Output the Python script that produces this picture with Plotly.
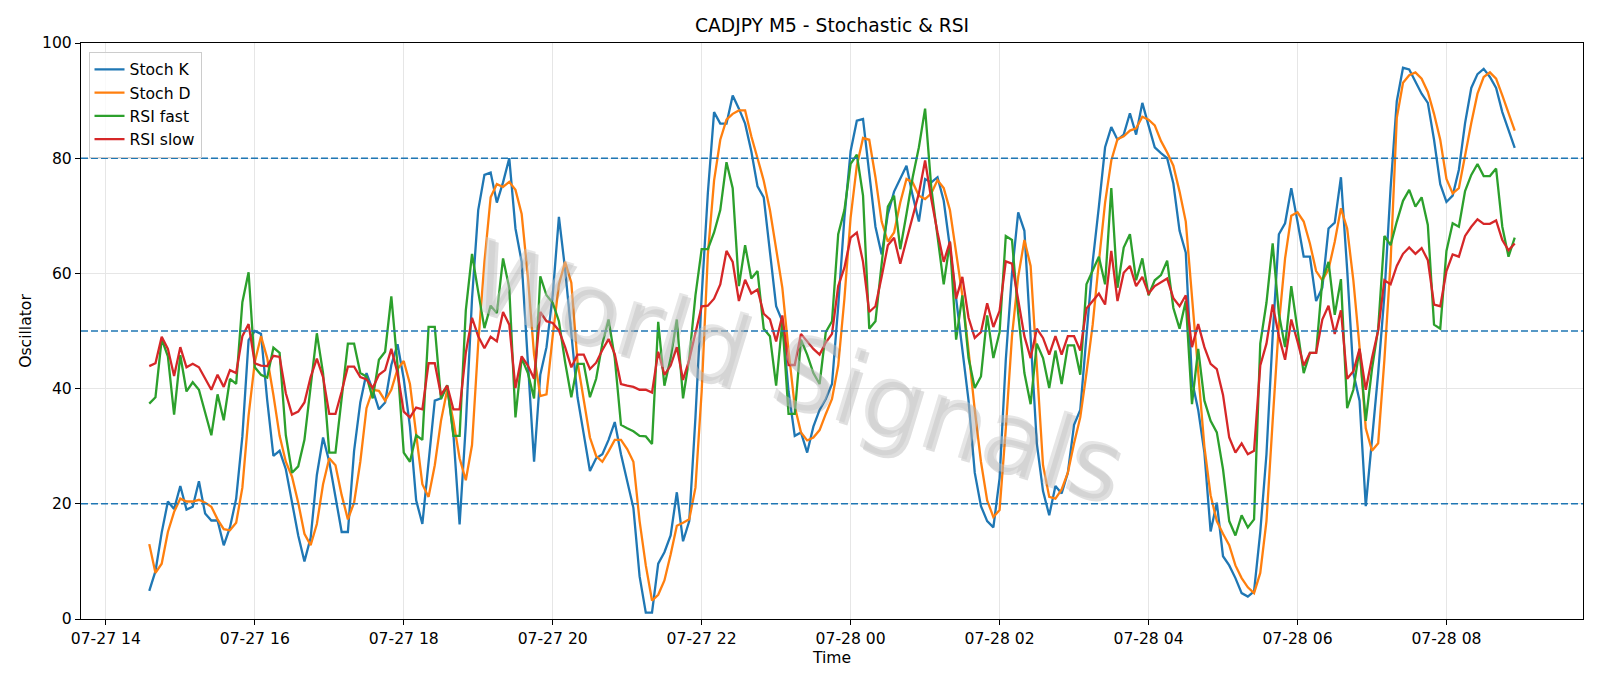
import pandas as pd
import plotly.graph_objects as go

start_time = "2025-07-27 14:35"

stoch_k = [
    4.9, 8.3, 15, 20.4, 19.1, 23.1, 19, 19.5, 23.9, 18.3,
    17.1, 17.1, 12.8, 15.9, 20.9, 31.7, 48.4, 50, 49.5, 38,
    28.3, 29.2, 26, 20.2, 14.5, 10, 14.1, 25, 31.5, 27.3,
    20.9, 15.1, 15.1, 29.2, 37.6, 42.7, 39.8, 36.4, 37.6, 44.1,
    47.7, 41.7, 33.4, 20.6, 16.5, 27.3, 37.9, 38.3, 40.5, 32.1,
    16.4, 33.7, 55.6, 71, 77.1, 77.5, 72.3, 75.8, 80, 67.8,
    62, 44.6, 27.3, 42.4, 47.2, 56.2, 69.8, 60.7, 49.1, 38.5,
    32.1, 25.7, 27.9, 28.6, 31.1, 34.2, 28.6, 24.1, 19.3, 7.4,
    1.1, 1.1, 9.6, 11.6, 14.5, 22, 13.5, 17, 35, 56,
    74, 88, 86, 86, 90.9, 88.6, 86, 81.2, 75.1, 73.2,
    63.9, 54.3, 51.7, 39.5, 31.8, 32.4, 28.9, 33.4, 36.3, 38.2,
    40.8, 54.3, 69.7, 81.2, 86.5, 86.8, 77.4, 68.1, 63.3, 70.3,
    74.2, 76.4, 78.7, 73.5, 69, 76.4, 75.8, 76.7, 72.6, 64.5,
    55.6, 46.6, 37.9, 25.4, 19.6, 17, 15.9, 24.4, 45, 60,
    70.6, 67.4, 49.1, 30.5, 22.2, 18, 23.1, 21.8, 25.4, 33.7,
    36.3, 49.1, 62, 71.6, 81.9, 85.4, 83.2, 84.1, 87.8, 84.1,
    89.6, 85.7, 81.9, 80.9, 80, 75.6, 67.4, 63.6, 41.4, 36.3,
    28.9, 15.2, 20.2, 10.9, 9.3, 7.1, 4.5, 3.9, 4.8, 15.1,
    28.6, 49.1, 66.8, 68.7, 74.8, 69, 62.9, 62.9, 55.2, 57.5,
    67.8, 68.8, 76.7, 60.7, 42.7, 37.9, 19.6, 31.1, 42.7, 56.2,
    74.8, 89.9, 95.7, 95.4, 93.4, 91.2, 89.6, 83.2, 75.5, 72.4,
    73.5, 78, 86.1, 92.2, 94.6, 95.5, 94.1, 92.2, 88, 84.8,
    81.8,
]

stoch_d = [
    13, 8, 9.6, 15.1, 18.6, 20.9, 20.4, 20.4, 20.7, 20.2,
    19.5, 17.3, 15.6, 15.4, 16.7, 22.8, 35.3, 44.6, 49.1, 45.3,
    38.9, 31.8, 27.3, 24.7, 20.2, 14.8, 12.8, 16.5, 23.4, 27.9,
    26.7, 21.5, 17.3, 20.2, 27.3, 36.6, 39.8, 39.6, 37.9, 39.8,
    43.4, 44.8, 40.8, 31.8, 23.4, 21.2, 26.7, 34.4, 39.8, 34.4,
    27.9, 24.1, 30.2, 47.8, 62, 73.2, 75.5, 75, 75.9, 74.5,
    70.3, 59.4, 45.9, 38.7, 39, 49.1, 58.1, 62, 58.4, 44.6,
    38.2, 31.5, 28.3, 27.3, 29.1, 31.1, 31.1, 29.5, 27.3, 17,
    9.3, 3.2, 4.2, 6.7, 11.2, 16.2, 16.7, 17.3, 22.8, 39.5,
    63.3, 76.1, 83.2, 86.7, 87.7, 88.3, 88.3, 83.8, 80, 76.1,
    71, 64.5, 57.5, 46.6, 36.9, 32.4, 31, 31.5, 32.8, 35.6,
    38.2, 44, 55.6, 69.7, 78.7, 83.5, 83.2, 76.7, 69, 65.5,
    67.1, 72.3, 76.4, 75.8, 73.5, 72.9, 73.9, 76.2, 74.8, 71,
    63.9, 56.2, 46.6, 36.3, 27.3, 20.6, 17.7, 18.9, 33, 49.1,
    59.4, 65.8, 61.3, 44.6, 26.7, 21.2, 20.9, 22.5, 25.4, 30.5,
    35, 42.7, 51.1, 62, 72.3, 79.6, 83.3, 83.8, 84.8, 85.2,
    87.2, 86.7, 85.7, 83, 81, 78.7, 74.2, 69, 55.6, 42.7,
    29.9, 21.5, 17, 14.8, 12.8, 9.3, 7.1, 5.5, 4.5, 8,
    17, 34.4, 51.1, 62.6, 70, 70.6, 69, 65.2, 60.4, 58.8,
    60.7, 65.5, 71.3, 67.8, 58.8, 47.2, 33.1, 29.2, 30.5, 45,
    62, 87, 93.1, 94.4, 94.9, 93.8, 91.5, 87.7, 83.2, 76.4,
    73.9, 74.8, 80.6, 86.1, 91.2, 94.1, 94.9, 93.8, 90.9, 87.7,
    84.8,
]

rsi_fast = [
    37.4, 38.5, 48.6, 45.6, 35.5, 45.8, 39.5, 41.1, 39.8, 36,
    31.9, 39, 34.5, 41.7, 40.8, 55, 60.2, 43.7, 42.4, 41.9,
    47.1, 46.2, 31.9, 25.4, 26.5, 31.1, 40.8, 49.6, 42.7, 28.9,
    28.9, 38.3, 47.8, 47.8, 42.7, 42.1, 38.3, 45, 46.4, 56,
    44, 28.9, 27.3, 31.9, 31.1, 50.7, 50.7, 38.2, 40.6, 31.8,
    31.8, 53.6, 63.4, 56.8, 50.5, 54.4, 53.1, 62.6, 57.5, 35,
    45.3, 42.7, 38.3, 59.5, 56.2, 54.9, 51.7, 44.6, 38.5, 44.3,
    44.3, 38.5, 41.7, 47.8, 52, 45.3, 33.7, 33.1, 32.6, 31.8,
    31.7, 30.4, 51.6, 40.5, 45.3, 52, 38.3, 45.3, 56.2, 64.2,
    64.2, 67.1, 71, 79.3, 74.8, 57.8, 64.9, 59.1, 60.4, 50.4,
    49.1, 40.5, 51.7, 35.6, 35.6, 48.5, 45.9, 42.7, 40.8, 49.8,
    51.7, 66.8, 71, 79, 80.6, 73.5, 50.4, 51.7, 62, 71.6,
    73.5, 64.2, 70.3, 76.7, 81.9, 88.6, 74.8, 66.5, 58.1, 65.5,
    48.5, 56.2, 45.3, 40.1, 42.1, 52.7, 45.3, 49.8, 66.5, 65.8,
    53, 42.7, 37.3, 47.8, 45.3, 40.1, 46.6, 40.8, 47.5, 47.5,
    42.4, 58.1, 60.4, 62.9, 58.1, 74.8, 57.5, 64.5, 66.8, 58.8,
    62.6, 56.2, 58.8, 59.7, 62.2, 54, 50.4, 55.2, 37.3, 46.9,
    37.9, 34.4, 32.4, 26, 17, 14.5, 18, 15.9, 17.3, 47.8,
    54.9, 65.2, 53, 47.2, 57.8, 50.4, 42.7, 46.2, 46.2, 58.8,
    62, 52.8, 59, 36.6, 39.8, 46.9, 34.4, 43.4, 50.4, 66.5,
    64.9, 69, 72.6, 74.5, 71.6, 73.2, 68.4, 51.1, 50.4, 63.9,
    68.7, 68.1, 74.3, 77.1, 79, 76.9, 76.9, 78.2, 68.1, 62.9,
    66.2,
]

rsi_slow = [
    43.9, 44.4, 49, 46.9, 42.2, 47.2, 43.7, 44.3, 43.7, 41.7,
    39.8, 42.4, 40.3, 43.2, 42.7, 49.1, 51.2, 44.4, 44, 43.9,
    45.7, 45.5, 39.2, 35.5, 36, 37.6, 42, 45.2, 42, 35.6,
    35.6, 39.5, 43.8, 43.8, 42, 41.6, 40.1, 42.4, 43.2, 46.9,
    42.7, 36, 35, 36.7, 36.4, 44.4, 44.4, 38.9, 40.5, 36.4,
    36.4, 46.2, 52.3, 49.1, 47, 49, 48.2, 53.3, 51.1, 40.1,
    45.6, 44, 41.7, 53.3, 51.7, 51.4, 50.1, 47.2, 43.7, 45.9,
    45.9, 43.4, 44.5, 46.7, 48.6, 46, 40.8, 40.5, 40.3, 39.8,
    39.8, 39.3, 46.4, 42.4, 44, 47.2, 41.5, 45, 49.8, 54.3,
    54.4, 55.6, 58.1, 63.9, 62, 55.2, 58.9, 56.5, 57.2, 53,
    52, 48.2, 52.7, 44.1, 44.1, 49.5, 48.2, 46.9, 45.9, 48,
    49.5, 57.8, 61, 66.2, 67.1, 62, 53.3, 54.3, 59.4, 64.9,
    66.2, 61.7, 65.8, 69.7, 73.9, 79.6, 72.9, 67.1, 62, 65.5,
    55.6, 59.4, 52.3, 48.8, 49.8, 54.8, 50.7, 53.5, 62.1, 61.7,
    55.6, 49.1, 45.3, 50.4, 48.8, 45.9, 49.1, 45.9, 49.1, 49.1,
    46.6, 53.9, 55.2, 56.5, 54.6, 63.9, 55.2, 60.1, 61.3, 57.8,
    59.4, 56.5, 57.8, 58.4, 59.1, 55.7, 54.3, 56.2, 47.2, 51.2,
    47.2, 44.3, 43.4, 38.9, 31.5, 28.9, 30.5, 28.6, 29.2, 44,
    47.8, 54.6, 49.1, 45, 52, 48.2, 44, 46.2, 46.2, 52,
    54.4, 49.5, 53.6, 41.7, 43, 46.9, 39.8, 45.3, 50.1, 58.8,
    58.1, 61.3, 63.4, 64.5, 63.4, 64.4, 62.3, 54.6, 54.3, 60.4,
    63.3, 62.9, 66.5, 68.1, 69.4, 68.6, 68.6, 69.2, 65.8, 64,
    65.2,
]

levels = [80, 50, 20]
tick_times = pd.date_range("2025-07-27 14:00", "2025-07-28 08:00", freq="2h")
tick_labels = [t.strftime("%m-%d %H") for t in tick_times]

times = pd.date_range(start_time, periods=len(stoch_k), freq="5min")
span = times[-1] - times[0]
x_range = [times[0] - span * 0.05, times[-1] + span * 0.05]

FONT = "DejaVu Sans"
series = [
    ("Stoch K", stoch_k, "#1f77b4"),
    ("Stoch D", stoch_d, "#ff7f0e"),
    ("RSI fast", rsi_fast, "#2ca02c"),
    ("RSI slow", rsi_slow, "#d62728"),
]

fig = go.Figure()
for name, vals, color in series:
    fig.add_trace(go.Scatter(
        x=times, y=vals, mode="lines", name=name,
        line=dict(color=color, width=2.3),
    ))

for lv in levels:
    fig.add_hline(y=lv, line=dict(color="#1f77b4", width=1.4, dash="7px,3px"))

# watermark (shadow + text)
wm_text = "World Signals"
fig.add_annotation(
    x=0.476, y=0.43, xref="paper", yref="paper", text=wm_text, showarrow=False,
    textangle=17, xshift=3, yshift=-3,
    font=dict(family=FONT, size=100, color="rgba(110,110,110,0.22)"),
)
fig.add_annotation(
    x=0.476, y=0.43, xref="paper", yref="paper", text=wm_text, showarrow=False,
    textangle=17,
    font=dict(family=FONT, size=100, color="rgba(200,200,200,0.45)"),
)

fig.update_layout(
    width=1600, height=686,
    margin=dict(l=81, r=17, t=43, b=67),
    paper_bgcolor="white", plot_bgcolor="white",
    font=dict(family=FONT, size=15.6, color="black"),
    title=dict(text="CADJPY M5 - Stochastic & RSI", x=0.5, xanchor="center",
               xref="paper", y=1 - 25.5 / 686, yref="container", yanchor="middle",
               font=dict(family=FONT, size=18.7, color="black")),
    legend=dict(x=0.005, y=0.985, xanchor="left", yanchor="top",
                bgcolor="rgba(255,255,255,0.8)", bordercolor="#cccccc", borderwidth=1,
                font=dict(family=FONT, size=15.6), tracegroupgap=0),
    showlegend=True,
)
fig.update_xaxes(
    range=x_range, tickvals=tick_times, ticktext=tick_labels,
    showline=True, linecolor="black", linewidth=1.2, mirror=True,
    ticks="outside", ticklen=5, tickcolor="black", tickwidth=1.2,
    showgrid=True, gridcolor="#e6e6e6", gridwidth=1.2, zeroline=False,
    title=dict(text="Time", standoff=5, font=dict(family=FONT, size=15.6)),
    tickfont=dict(family=FONT, size=15.6),
)
fig.update_yaxes(
    range=[0, 100], tickvals=[0, 20, 40, 60, 80, 100],
    showline=True, linecolor="black", linewidth=1.2, mirror=True,
    ticks="outside", ticklen=5, tickcolor="black", tickwidth=1.2,
    showgrid=True, gridcolor="#e6e6e6", gridwidth=1.2, zeroline=False,
    title=dict(text="Oscillator", standoff=6, font=dict(family=FONT, size=15.6)),
    tickfont=dict(family=FONT, size=15.6),
)

fig.write_html("out.html")
